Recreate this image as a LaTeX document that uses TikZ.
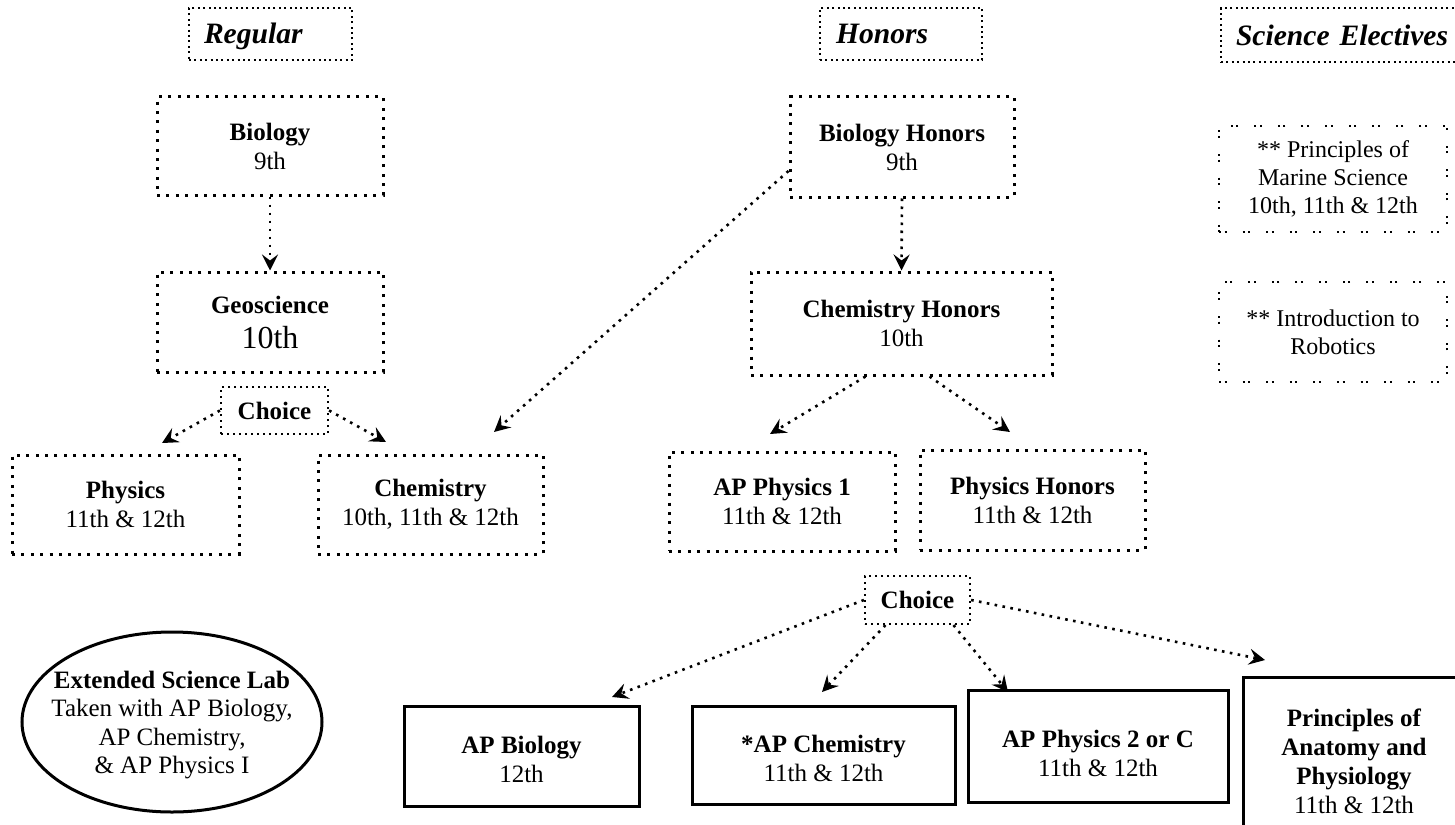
\documentclass[tikz,border=0pt]{standalone}
\usepackage{fontspec}
\setmainfont{Liberation Serif}
\usetikzlibrary{arrows.meta,shapes.geometric,calc}
\begin{document}
\begin{tikzpicture}[x=0.5pt,y=-0.5pt,
  box/.style={draw, line width=1.5pt, dash pattern=on 1.5pt off 3.2pt, align=center, inner sep=0pt,
    font=\fontsize{12.5}{14.5}\selectfont},
  cbox/.style={draw, line width=1.1pt, dash pattern=on 1.1pt off 1.9pt, align=center, inner sep=0pt,
    font=\fontsize{12.5}{14.5}\selectfont\bfseries},
  hdr/.style={draw, line width=1pt, dash pattern=on 1pt off 1.7pt, inner sep=0pt, align=left,
    font=\fontsize{14.8}{18}\selectfont\bfseries\itshape},
  ebox/.style={draw, line width=1pt, dash pattern=on 1pt off 1.8pt on 1pt off 8pt, align=center, inner sep=0pt,
    font=\fontsize{12}{14}\selectfont},
  sbox/.style={draw, line width=1.5pt, align=center, inner sep=0pt,
    font=\fontsize{12.5}{14.5}\selectfont},
  arr/.style={line width=1.3pt, dash pattern=on 1.3pt off 2.7pt,
    -{Stealth[length=8pt,width=8pt,inset=3pt]}}
]
\path[use as bounding box, fill=white] (0,0) rectangle (1455,824);

% headers
\node[hdr, minimum width=81.5pt, minimum height=26pt, text width=66.5pt] (regH) at (270.5,34) {\rule{0pt}{13pt}Regular};
\node[hdr, minimum width=81pt, minimum height=26pt, text width=65pt] (honH) at (901,34) {Honors};
\node[hdr, minimum width=127pt, minimum height=27pt, text width=112pt] (sciH) at (1348,35) {Science Electives};

% regular track
\node[box, minimum width=113pt, minimum height=49pt] (bio) at (270,146) {\textbf{Biology}\\9th};
\node[box, minimum width=113pt, minimum height=50pt] (geo) at (270,322)
  {\textbf{Geoscience}\\[3pt]{\fontsize{16}{18}\selectfont 10th}};
\node[cbox, minimum width=53.5pt, minimum height=23.5pt] (choiceL) at (274.5,410.5) {Choice};
\node[box, minimum width=113.5pt, minimum height=49.5pt] (phys) at (125.5,504.5) {\textbf{Physics}\\11th \& 12th};
\node[box, minimum width=112.5pt, minimum height=49.5pt] (chem) at (430.5,504.5) {\textbf{Chemistry}\\10th, 11th \& 12th};

% honors track
\node[box, minimum width=112pt, minimum height=50pt] (bioH) at (902,147) {\textbf{Biology Honors}\\9th};
\node[box, minimum width=150.5pt, minimum height=51.5pt] (chemH) at (901.5,323.5) {\textbf{Chemistry Honors}\\10th};
\node[box, minimum width=113pt, minimum height=49.5pt] (ap1) at (782,501.5) {\textbf{AP Physics 1}\\11th \& 12th};
\node[box, minimum width=112.5pt, minimum height=50pt] (physH) at (1032.5,500) {\textbf{Physics Honors}\\11th \& 12th};
\node[cbox, minimum width=52.5pt, minimum height=24pt] (choiceH) at (917.5,600) {Choice};

% electives
\node[ebox, minimum width=114pt, minimum height=53pt] (marine) at (1333,179)
  {** Principles of\\Marine Science\\10th, 11th \& 12th};
\node[ebox, minimum width=114pt, minimum height=50pt] (robot) at (1333,332)
  {** Introduction to\\Robotics};

% bottom
\node[draw, ellipse, line width=1.5pt, minimum width=150pt, minimum height=90pt, inner sep=0pt] (lab) at (172,722) {};
\node[align=center, inner sep=0pt, font=\fontsize{12.5}{14.25}\selectfont] (labtext) at (172,725)
  {\textbf{Extended Science Lab}\\Taken with AP Biology,\\AP Chemistry,\\\& AP Physics I};
\node[sbox, minimum width=117.5pt, minimum height=50pt] (apbio) at (521.5,756) {\rule{0pt}{12pt}\textbf{AP Biology}\\12th};
\node[sbox, minimum width=131.5pt, minimum height=49pt] (apchem) at (823.5,755) {\rule{0pt}{12pt}\textbf{*AP Chemistry}\\11th \& 12th};
\node[sbox, minimum width=130pt, minimum height=56pt] (ap2) at (1098,746) {\rule{0pt}{16pt}\textbf{AP Physics 2 or C}\\11th \& 12th};
\node[sbox, minimum width=111pt, minimum height=84pt] (anat) at (1354,761)
  {\textbf{Principles of}\\\textbf{Anatomy and}\\\textbf{Physiology}\\11th \& 12th};

% arrow end points
\coordinate (e1) at (162,443);
\coordinate (e2) at (386,442);
\coordinate (e3) at (494,432);
\coordinate (e4) at (770,434);
\coordinate (e5) at (1010,432);
\coordinate (e6) at (612,697);
\coordinate (e7) at (822,692);
\coordinate (e8) at (1008,692);
\coordinate (e9) at (1265,660);

% connectors
\draw[arr] (bio.south) -- (geo.north);
\draw[arr] (choiceL.west) -- (e1);
\draw[arr] (choiceL.east) -- (e2);
\draw[arr] ([yshift=-12pt]bioH.west) -- (e3);
\draw[arr] (bioH.south) -- (chemH.north);
\draw[arr] ([xshift=-18pt]chemH.south) -- (e4);
\draw[arr] ([xshift=14pt]chemH.south) -- (e5);
\draw[arr] (choiceH.west) -- (e6);
\draw[arr] ([xshift=-16pt]choiceH.south) -- (e7);
\draw[arr] ([xshift=18pt]choiceH.south) -- (e8);
\draw[arr] (choiceH.east) -- (e9);
\end{tikzpicture}
\end{document}
